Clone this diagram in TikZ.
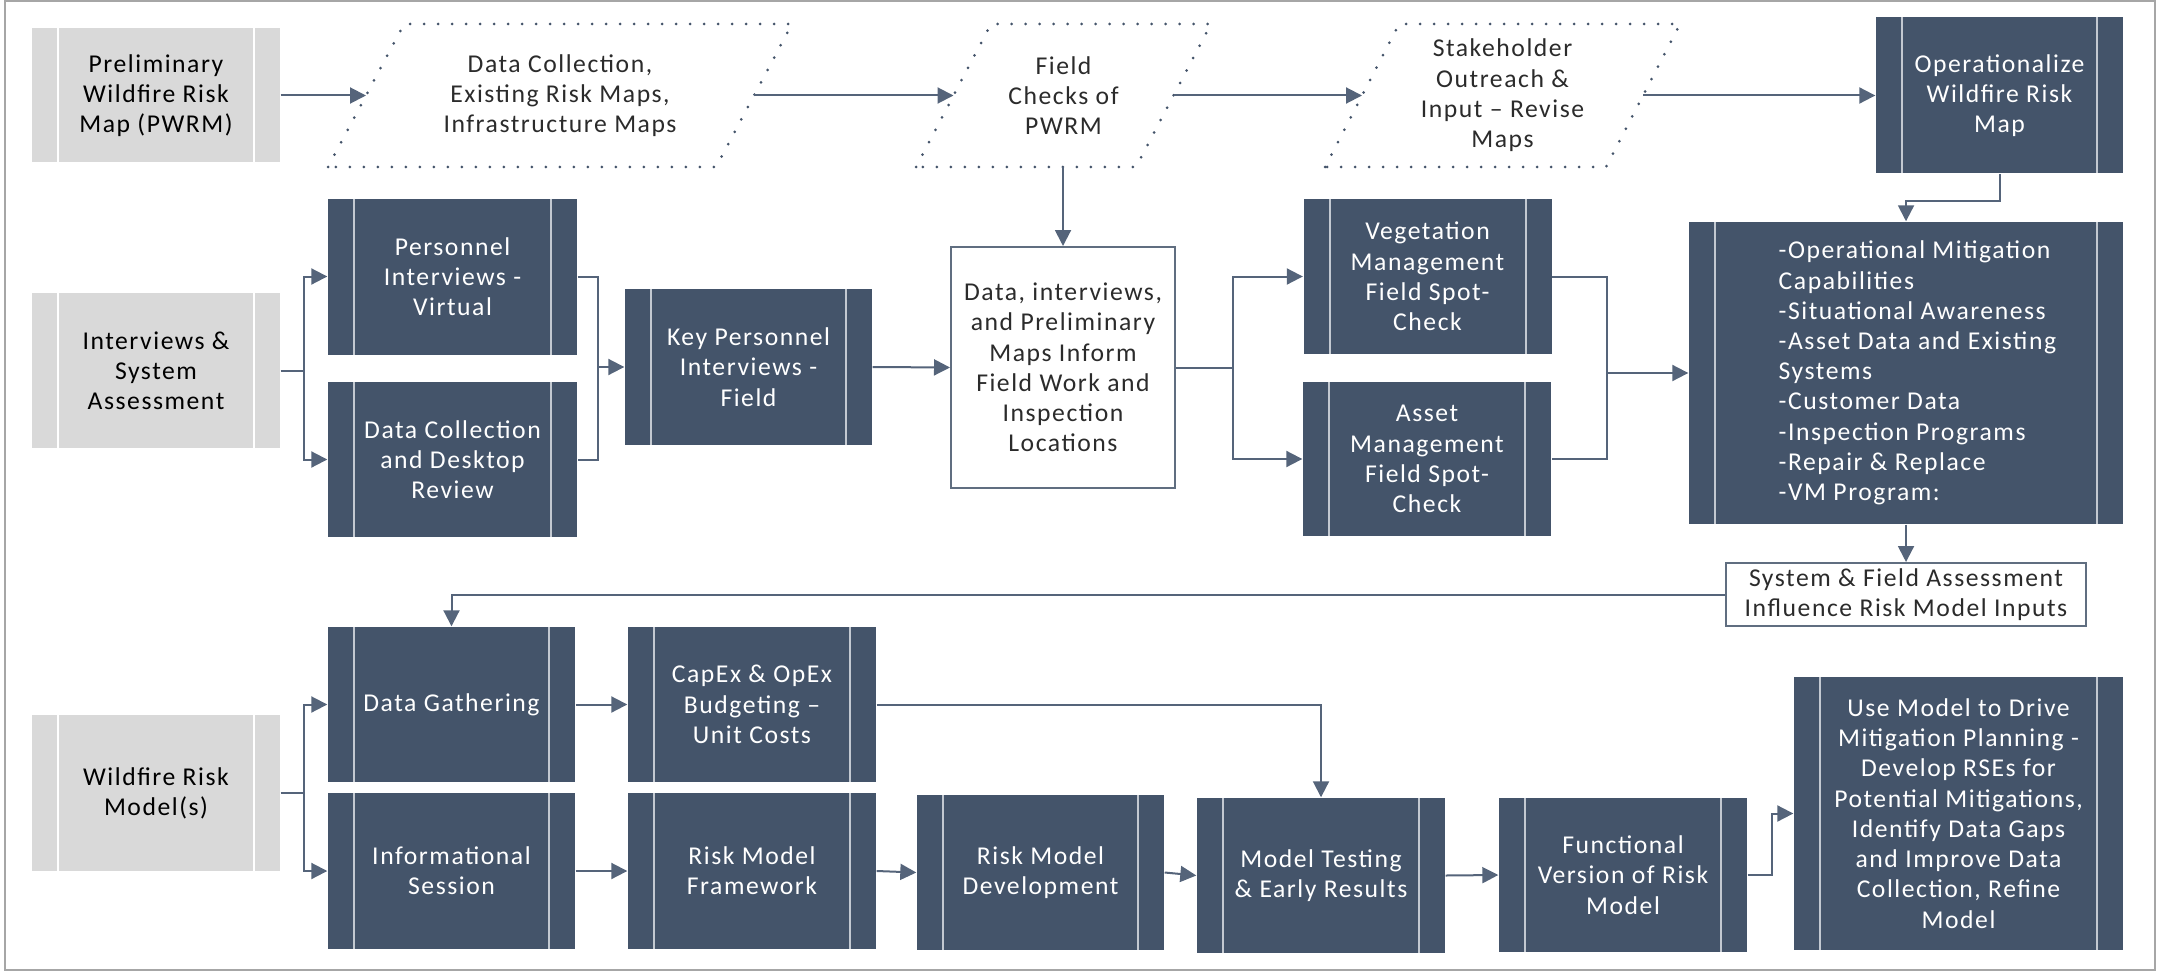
\documentclass[tikz,border=0pt]{standalone}
\usepackage{fontspec}
\setmainfont{Carlito}[LetterSpace=6]
\usetikzlibrary{shapes,arrows.meta}

\definecolor{slate}{HTML}{44546A}
\definecolor{lightbox}{HTML}{D9D9D9}
\definecolor{wirecol}{HTML}{55647A}
\definecolor{stripecol}{HTML}{C3C9D1}
\definecolor{framegray}{HTML}{A6A6A6}
\definecolor{textgray}{HTML}{2B2B2B}

\tikzset{
  box/.style={inner sep=0pt, align=center, font=\fontsize{7.3}{8.6}\selectfont},
  darkbox/.style={box, fill=slate, text=white, path picture={
      \draw[stripecol, line width=0.02cm] ([xshift=0.26cm]path picture bounding box.north west) -- ([xshift=0.26cm]path picture bounding box.south west);
      \draw[stripecol, line width=0.02cm] ([xshift=-0.26cm]path picture bounding box.north east) -- ([xshift=-0.26cm]path picture bounding box.south east);}},
  greybox/.style={box, fill=lightbox, text=black, path picture={
      \draw[white, line width=0.02cm] ([xshift=0.26cm]path picture bounding box.north west) -- ([xshift=0.26cm]path picture bounding box.south west);
      \draw[white, line width=0.02cm] ([xshift=-0.26cm]path picture bounding box.north east) -- ([xshift=-0.26cm]path picture bounding box.south east);}},
  whitebox/.style={box, draw=slate!85, line width=0.02cm, fill=white, text=textgray},
  mapbox/.style={draw=slate, dash pattern=on 0pt off 0.14cm, line cap=round, line width=0.03cm},
  wire/.style={draw=wirecol, line width=0.02cm},
  arr/.style={wire, -{Triangle[length=0.16cm,width=0.16cm]}}
}

\begin{document}
\begin{tikzpicture}[x=1cm,y=-1cm]
  \useasboundingbox (0,0) rectangle (21.6,9.73);
  \draw[framegray, line width=0.02cm] (0.05,0.01) rectangle (21.55,9.70);

  %PWRM row
  \node[greybox, minimum width=2.48cm, minimum height=1.34cm] (pwrm) at (1.56,0.955) {Preliminary\\Wildfire Risk\\Map (PWRM)};

  \draw[mapbox] (3.28,1.67) -- (4.04,0.24) -- (7.92,0.24) -- (7.16,1.67) -- cycle;
  \node[box, text=textgray] (maps) at (5.60,0.955) {Data Collection,\\Existing Risk Maps,\\Infrastructure Maps};
  \coordinate (mapsL) at (3.66,0.955);
  \coordinate (mapsR) at (7.54,0.955);

  \draw[mapbox] (9.16,1.67) -- (9.91,0.24) -- (12.11,0.24) -- (11.36,1.67) -- cycle;
  \node[box, text=textgray] (checks) at (10.635,0.955) {Field\\Checks of\\PWRM};
  \coordinate (checksL) at (9.535,0.955);
  \coordinate (checksR) at (11.735,0.955);
  \coordinate (checksS) at (10.63,1.67);

  \draw[mapbox] (13.25,1.67) -- (13.99,0.24) -- (16.80,0.24) -- (16.06,1.67) -- cycle;
  \node[box, text=textgray] (stake) at (15.025,0.955) {Stakeholder\\Outreach \&\\Input \textendash{} Revise\\Maps};
  \coordinate (stakeL) at (13.62,0.955);
  \coordinate (stakeR) at (16.43,0.955);

  \node[darkbox, minimum width=2.47cm, minimum height=1.56cm] (oper) at (19.995,0.955) {Operationalize\\Wildfire Risk\\Map};

  %interviews row
  \node[greybox, minimum width=2.48cm, minimum height=1.55cm] (isa) at (1.56,3.705) {Interviews \&\\System\\Assessment};
  \node[darkbox, minimum width=2.49cm, minimum height=1.56cm] (pers) at (4.525,2.765) {Personnel\\Interviews -\\Virtual};
  \node[darkbox, minimum width=2.49cm, minimum height=1.55cm] (dcd) at (4.525,4.595) {Data Collection\\and Desktop\\Review};
  \node[darkbox, minimum width=2.47cm, minimum height=1.56cm] (key) at (7.485,3.67) {Key Personnel\\Interviews -\\Field};
  \node[whitebox, minimum width=2.24cm, minimum height=2.41cm] (dim) at (10.63,3.675) {Data, interviews,\\and Preliminary\\Maps Inform\\Field Work and\\Inspection\\Locations};
  \node[darkbox, minimum width=2.48cm, minimum height=1.55cm] (veg) at (14.275,2.765) {Vegetation\\Management\\Field Spot-\\Check};
  \node[darkbox, minimum width=2.48cm, minimum height=1.54cm] (asset) at (14.27,4.59) {Asset\\Management\\Field Spot-\\Check};
  \node[darkbox, minimum width=4.34cm, minimum height=3.02cm] (bul) at (19.06,3.73) {};
  \node[box, text=white, align=left, anchor=west] (bultext) at (17.78,3.73) {-Operational Mitigation\\Capabilities\\-Situational Awareness\\-Asset Data and Existing\\Systems\\-Customer Data\\-Inspection Programs\\-Repair \& Replace\\-VM Program:};
  \node[whitebox, minimum width=3.60cm, minimum height=0.63cm] (sfa) at (19.06,5.945) {System \& Field Assessment\\Influence Risk Model Inputs};

  %model row
  \node[greybox, minimum width=2.48cm, minimum height=1.56cm] (wrm) at (1.56,7.93) {Wildfire Risk\\Model(s)};
  \node[darkbox, minimum width=2.47cm, minimum height=1.55cm] (dg) at (4.515,7.045) {Data Gathering};
  \node[darkbox, minimum width=2.47cm, minimum height=1.56cm] (info) at (4.515,8.71) {Informational\\Session};
  \node[darkbox, minimum width=2.48cm, minimum height=1.55cm] (capex) at (7.52,7.045) {CapEx \& OpEx\\Budgeting \textendash\\Unit Costs};
  \node[darkbox, minimum width=2.48cm, minimum height=1.56cm] (rmf) at (7.52,8.71) {Risk Model\\Framework};
  \node[darkbox, minimum width=2.47cm, minimum height=1.55cm] (rmd) at (10.405,8.725) {Risk Model\\Development};
  \node[darkbox, minimum width=2.48cm, minimum height=1.55cm] (mt) at (13.21,8.755) {Model Testing\\\& Early Results};
  \node[darkbox, minimum width=2.48cm, minimum height=1.54cm] (func) at (16.23,8.75) {Functional\\Version of Risk\\Model};
  \node[darkbox, minimum width=3.29cm, minimum height=2.73cm] (use) at (19.585,8.135) {Use Model to Drive\\Mitigation Planning -\\Develop RSEs for\\Potential Mitigations,\\Identify Data Gaps\\and Improve Data\\Collection, Refine\\Model};

  %connectors, top
  \draw[arr] (pwrm.east) -- (mapsL);
  \draw[arr] (mapsR) -- (checksL);
  \draw[arr] (checksR) -- (stakeL);
  \draw[arr] (stakeR) -- (oper.west);
  \draw[arr] (checksS) -- (dim.north);

  %connectors, interviews
  \draw[wire] (isa.east) -- ++(0.23,0) coordinate (isasplit);
  \draw[arr] (isasplit) |- (pers.west);
  \draw[arr] (isasplit) |- (dcd.west);
  \draw[wire] (pers.east) -| ([xshift=-0.26cm]key.west) |- (dcd.east);
  \draw[arr] ([xshift=-0.26cm]key.west) -- (key.west);
  \draw[arr] (key.east) -- (dim.west);
  \draw[wire] (dim.east) -- ++(0.57,0) coordinate (dimsplit);
  \draw[arr] (dimsplit) |- (veg.west);
  \draw[arr] (dimsplit) |- (asset.west);
  \draw[wire] (veg.east) -| ([xshift=-0.81cm]bul.west) |- (asset.east);
  \draw[arr] ([xshift=-0.81cm]bul.west) -- (bul.west);
  \draw[arr] (oper.south) -- ++(0,0.27) -| (bul.north);
  \draw[arr] (bul.south) -- (sfa.north);
  \draw[arr] (sfa.west) -| (dg.north);

  %connectors, model
  \draw[wire] (wrm.east) -- ++(0.23,0) coordinate (wrmsplit);
  \draw[arr] (wrmsplit) |- (dg.west);
  \draw[arr] (wrmsplit) |- (info.west);
  \draw[arr] (dg.east) -- (capex.west);
  \draw[arr] (info.east) -- (rmf.west);
  \draw[arr] (rmf.east) -- (rmd.west);
  \draw[arr] (rmd.east) -- (mt.west);
  \draw[arr] (capex.east) -| (mt.north);
  \draw[arr] (mt.east) -- (func.west);
  \draw[arr] (func.east) -- ++(0.24,0) |- (use.west);

\end{tikzpicture}
\end{document}
